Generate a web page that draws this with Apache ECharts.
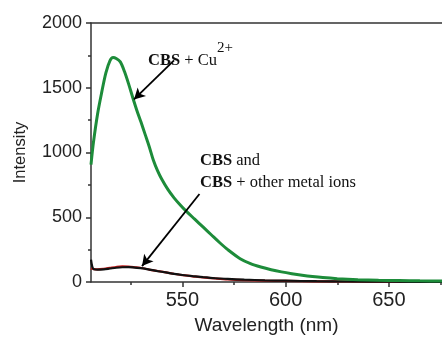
<!DOCTYPE html>
<html>
<head>
<meta charset="utf-8">
<script src="https://cdn.jsdelivr.net/npm/echarts@6/dist/echarts.min.js"></script>
<style>html,body{margin:0;padding:0;background:#fff}#c{width:442px;height:340px}</style>
</head>
<body>
<div id="c"></div>
<script>
// ---- data ----
const wlCu = [505.8, 507, 509, 511, 513, 515, 516.5, 518, 520, 522, 524, 526, 528, 530, 532, 534, 536, 538, 540, 543, 546, 549, 552, 556, 560, 564, 568, 572, 578, 583, 588, 593, 598, 603, 608, 613, 618, 625, 635, 645, 655, 665, 676];
const intCu = [907, 1080, 1300, 1466, 1615, 1710, 1733, 1726, 1700, 1625, 1530, 1425, 1325, 1235, 1140, 1045, 940, 860, 795, 715, 650, 595, 545, 485, 425, 365, 305, 250, 180, 142, 116, 95, 78, 64, 52, 42, 34, 26, 18, 13, 11, 9, 8];
const wlCbs = [505.8, 506.4, 507.2, 509, 512, 515, 518, 521, 524, 527, 531, 534, 538, 542, 546, 550, 555, 560, 566, 572, 580, 590, 600, 615, 630, 650, 676];
const intCbs = [172, 120, 98, 95, 98, 104, 110, 114, 115, 111, 105, 95, 84, 74, 63, 54, 45, 37, 29, 24, 18, 13, 10, 6, 4, 2, 1];
const intOther = [105, 102, 100, 98, 102, 109, 116, 120, 119, 114, 106, 96, 85, 74, 63, 53, 44, 35, 27, 20, 14, 10, 8, 5, 4, 3, 3];
const xMajorTicks = [550, 600, 650];
const xMinorTicks = [525, 575, 625, 675];
const xRange = [505.8, 675.7];
const yRange = [0, 2000];
// annotation arrows (data coordinates)
const arrowCu = [[546.0, 1712], [526.6, 1410]];
const arrowOther = [[558.3, 680], [530.5, 123]];

const zip = (xs, ys) => xs.map((x, i) => [x, ys[i]]);

const chart = echarts.init(document.getElementById('c'), null, {renderer: 'canvas'});
const axisColor = '#333';
const sansFont = '"Liberation Sans", Arial, sans-serif';
const serifFont = '"Liberation Serif", "Times New Roman", serif';

chart.setOption({
  animation: false,
  backgroundColor: '#fff',
  grid: {left: 91, top: 23, right: 0, bottom: 54.3, containLabel: false},
  xAxis: [{
    type: 'value', min: xRange[0], max: xRange[1],
    name: 'Wavelength (nm)', nameLocation: 'middle', nameGap: 34,
    nameTextStyle: {fontFamily: sansFont, fontSize: 19, color: '#222'},
    axisLine: {show: true, lineStyle: {color: axisColor, width: 1.5}},
    axisTick: {show: true, inside: false, length: 5, customValues: xMajorTicks, lineStyle: {color: axisColor, width: 1.5}},
    axisLabel: {customValues: xMajorTicks, fontFamily: sansFont, fontSize: 20, color: '#222', margin: 8},
    splitLine: {show: false}
  }, {
    type: 'value', min: xRange[0], max: xRange[1], position: 'bottom',
    axisLine: {show: false},
    axisTick: {show: true, inside: false, length: 3, customValues: xMinorTicks, lineStyle: {color: axisColor, width: 1.5}},
    axisLabel: {show: false, customValues: xMinorTicks},
    splitLine: {show: false}
  }, {
    type: 'value', min: xRange[0], max: xRange[1], position: 'top',
    axisLine: {show: true, lineStyle: {color: axisColor, width: 1.5}},
    axisTick: {show: false}, axisLabel: {show: false}, splitLine: {show: false}
  }],
  yAxis: {
    type: 'value', min: yRange[0], max: yRange[1], interval: 500,
    name: 'Intensity', nameLocation: 'middle', nameGap: 62,
    nameTextStyle: {fontFamily: sansFont, fontSize: 16.5, color: '#222'},
    axisLine: {show: true, lineStyle: {color: axisColor, width: 1.5}},
    axisTick: {show: true, inside: false, length: 5, lineStyle: {color: axisColor, width: 1.5}},
    minorTick: {show: true, splitNumber: 2, length: 3, lineStyle: {color: axisColor, width: 1.5}},
    axisLabel: {fontFamily: sansFont, fontSize: 18, color: '#222', margin: 9, formatter: (v) => String(v)},
    splitLine: {show: false}
  },
  series: [{
    name: 'CBS + other metal ions', type: 'line', data: zip(wlCbs, intOther),
    showSymbol: false, smooth: 0.3, lineStyle: {color: '#c01818', width: 2.2}, z: 2
  }, {
    name: 'CBS', type: 'line', data: zip(wlCbs, intCbs),
    showSymbol: false, smooth: 0.3, lineStyle: {color: '#111', width: 2.2}, z: 3,
    markLine: {
      silent: true, symbol: ['none', 'arrow'], symbolSize: [9, 11],
      lineStyle: {color: '#000', width: 1.8, type: 'solid'}, label: {show: false},
      data: [
        [{coord: arrowCu[0]}, {coord: arrowCu[1]}],
        [{coord: arrowOther[0]}, {coord: arrowOther[1]}]
      ]
    }
  }, {
    name: 'CBS + Cu2+', type: 'line', data: zip(wlCu, intCu),
    showSymbol: false, smooth: 0.3, lineStyle: {color: '#1d8c3a', width: 3}, z: 4
  }],
  graphic: [{
    type: 'text', left: 148, top: 52, z: 100,
    style: {
      text: '{b|CBS} + Cu', fill: '#111',
      font: '16.5px ' + serifFont,
      rich: {b: {fontWeight: 'bold', fontFamily: serifFont, fontSize: 16.5, fill: '#111'}}
    }
  }, {
    type: 'text', left: 217, top: 41, z: 100,
    style: {text: '2+', fill: '#111', font: '15px ' + serifFont}
  }, {
    type: 'text', left: 200, top: 150, z: 100,
    style: {
      text: '{b|CBS} and\n{b|CBS} + other metal ions', fill: '#111',
      font: '16.5px ' + serifFont, lineHeight: 21.5,
      rich: {b: {fontWeight: 'bold', fontFamily: serifFont, fontSize: 16.5, fill: '#111', lineHeight: 21.5}}
    }
  }]
});
</script>
</body>
</html>
